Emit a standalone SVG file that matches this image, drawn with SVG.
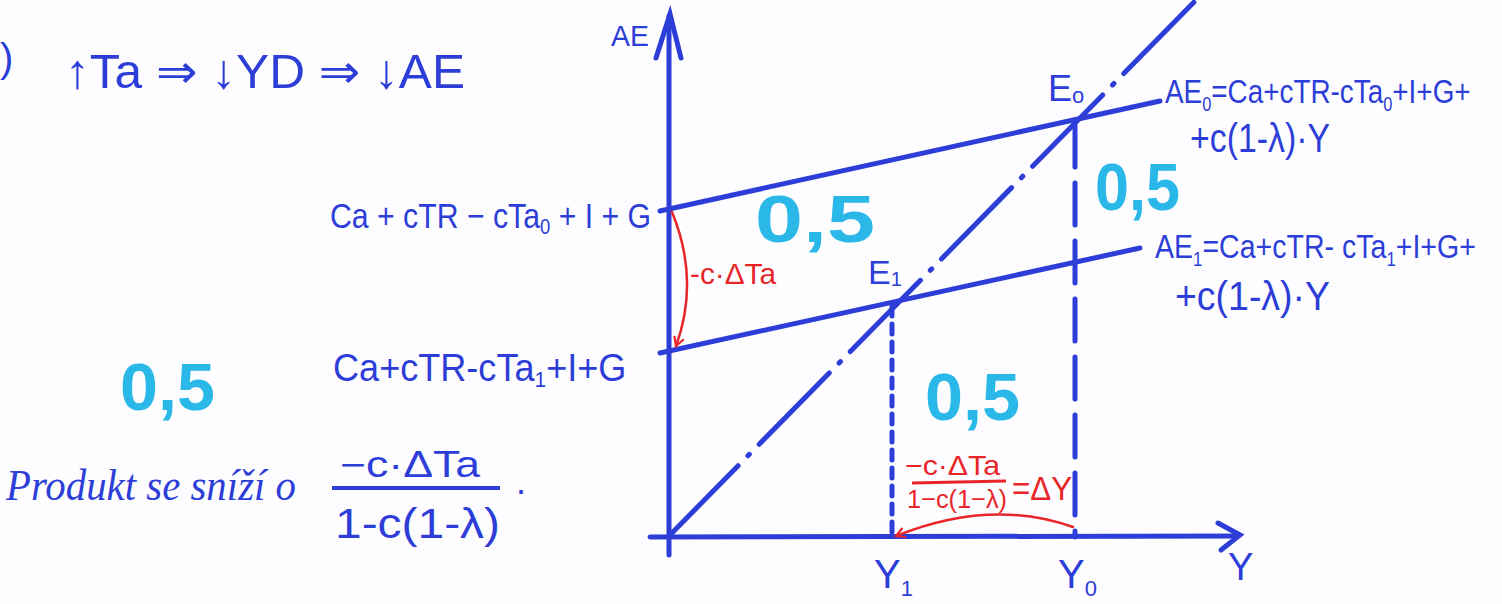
<svg xmlns="http://www.w3.org/2000/svg" width="1502" height="604" viewBox="0 0 1502 604">
<defs>
<style>
.ink{fill:#2d3ed8;font-family:"Liberation Sans","DejaVu Sans",sans-serif;}
.red{fill:#e8262a;font-family:"Liberation Sans","DejaVu Sans",sans-serif;}
.cy{fill:#2ab8e8;font-family:"Liberation Sans",sans-serif;font-weight:bold;font-size:66px;}
.script{fill:#2d3ed8;font-family:"Liberation Serif",serif;font-style:italic;}
.bl{stroke:#2d3ed8;stroke-width:5;fill:none;stroke-linecap:round;}
.rd{stroke:#e8262a;stroke-width:2.5;fill:none;stroke-linecap:round;}
</style>
<marker id="ra" viewBox="0 0 12 12" refX="10" refY="6" markerWidth="12" markerHeight="12" markerUnits="userSpaceOnUse" orient="auto">
<path d="M1 1 L10 6 L1 11" fill="none" stroke="#e8262a" stroke-width="2.2"/>
</marker>
</defs>
<rect width="1502" height="604" fill="#fdfdff"/>

<g id="title">
<text class="ink" x="0" y="72" font-size="40">)</text>
<text class="ink" x="65" y="88" font-size="48" textLength="400" lengthAdjust="spacingAndGlyphs">↑Ta ⇒ ↓YD ⇒ ↓AE</text>
</g>

<g id="axes">
<line class="bl" x1="669" y1="16" x2="669" y2="555"/>
<polyline class="bl" points="656,58 670,14 681,58"/>
<line class="bl" x1="650" y1="537" x2="1238" y2="536"/>
<polyline class="bl" points="1218,523 1240,535 1221,550"/>
<text class="ink" x="611" y="46" font-size="30" textLength="38" lengthAdjust="spacingAndGlyphs">AE</text>
<text class="ink" x="1228" y="580" font-size="38">Y</text>
</g>

<g id="connectors">
<line class="bl" x1="668" y1="537" x2="1200" y2="-4" stroke-dasharray="100 14 2 14"/>
<line class="bl" x1="660" y1="211" x2="1160" y2="101"/>
<line class="bl" x1="660" y1="353" x2="1140" y2="248"/>
<line class="bl" x1="892" y1="306" x2="892" y2="537" stroke-width="3.5" stroke-dasharray="10 8"/>
<line class="bl" x1="1075" y1="125" x2="1075" y2="537" stroke-width="3.5" stroke-dasharray="42 16"/>
<path class="rd" d="M672 212 Q700 280 676 346" marker-end="url(#ra)"/>
<path class="rd" d="M1073 527 Q990 498 896 536" marker-end="url(#ra)"/>
</g>

<g id="E0"><text class="ink" x="1048" y="101" font-size="36">E<tspan font-size="22" dy="2">o</tspan></text></g>
<g id="E1"><text class="ink" x="868" y="284" font-size="34">E<tspan font-size="20" dy="2">1</tspan></text></g>

<g id="label-AE0-intercept" transform="translate(330 228) scale(0.84 1)">
<text class="ink" x="0" y="0" font-size="36">Ca + cTR − cTa<tspan font-size="22" dy="6">0</tspan><tspan dy="-6"> + I + G</tspan></text>
</g>
<g id="label-AE1-intercept" transform="translate(333 381) scale(0.95 1)">
<text class="ink" x="0" y="0" font-size="38">Ca+cTR-cTa<tspan font-size="22" dy="6">1</tspan><tspan dy="-6">+I+G</tspan></text>
</g>

<g id="label-AE0">
<g transform="translate(1165 103) scale(0.82 1)">
<text class="ink" x="0" y="0" font-size="34">AE<tspan font-size="20" dy="8">0</tspan><tspan dy="-8">=Ca+cTR-cTa</tspan><tspan font-size="20" dy="8">0</tspan><tspan dy="-8">+I+G+</tspan></text>
</g>
<text class="ink" x="1190" y="152" font-size="40" textLength="140" lengthAdjust="spacingAndGlyphs">+c(1-λ)·Y</text>
</g>
<g id="label-AE1">
<g transform="translate(1155 258) scale(0.84 1)">
<text class="ink" x="0" y="0" font-size="34">AE<tspan font-size="20" dy="8">1</tspan><tspan dy="-8">=Ca+cTR- cTa</tspan><tspan font-size="20" dy="8">1</tspan><tspan dy="-8">+I+G+</tspan></text>
</g>
<text class="ink" x="1175" y="310" font-size="40" textLength="155" lengthAdjust="spacingAndGlyphs">+c(1-λ)·Y</text>
</g>

<g id="label-Y1"><text class="ink" x="874" y="588" font-size="40">Y<tspan font-size="22" dy="8">1</tspan></text></g>
<g id="label-Y0"><text class="ink" x="1058" y="588" font-size="40">Y<tspan font-size="22" dy="8">0</tspan></text></g>

<g id="red-labels">
<text class="red" x="690" y="284" font-size="30" textLength="86" lengthAdjust="spacingAndGlyphs">-c·ΔTa</text>
<text class="red" x="905" y="475" font-size="28" textLength="95" lengthAdjust="spacingAndGlyphs">−c·ΔTa</text>
<line x1="912" y1="483" x2="1006" y2="481" stroke="#e8262a" stroke-width="3"/>
<text class="red" x="907" y="508" font-size="26" textLength="100" lengthAdjust="spacingAndGlyphs">1−c(1−λ)</text>
<text class="red" x="1012" y="500" font-size="34" textLength="60" lengthAdjust="spacingAndGlyphs">=ΔY</text>
</g>

<g id="scores">
<text class="cy" x="755" y="242" textLength="120" lengthAdjust="spacingAndGlyphs">0,5</text>
<text class="cy" x="1095" y="210" textLength="85" lengthAdjust="spacingAndGlyphs">0,5</text>
<text class="cy" x="925" y="420" textLength="95" lengthAdjust="spacingAndGlyphs">0,5</text>
<text class="cy" x="120" y="410" textLength="95" lengthAdjust="spacingAndGlyphs">0,5</text>
</g>

<g id="conclusion">
<text class="script" x="6" y="500" font-size="44" textLength="290" lengthAdjust="spacingAndGlyphs">Produkt se sníží o</text>
<text class="ink" x="340" y="477" font-size="36" textLength="140" lengthAdjust="spacingAndGlyphs">−c·ΔTa</text>
<line x1="332" y1="488" x2="500" y2="488" stroke="#2d3ed8" stroke-width="4"/>
<text class="ink" x="335" y="538" font-size="42" textLength="165" lengthAdjust="spacingAndGlyphs">1-c(1-λ)</text>
<text class="ink" x="516" y="494" font-size="36">.</text>
</g>
</svg>
